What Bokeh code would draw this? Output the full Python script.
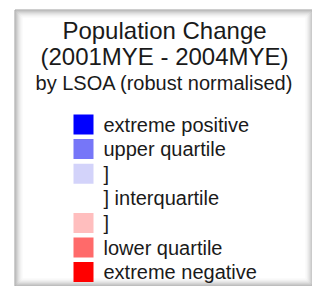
from bokeh.plotting import figure
from bokeh.models import Range1d, ColumnDataSource
from bokeh.core.properties import value
from bokeh.embed import file_html
from bokeh.resources import INLINE

# ---- data ----
title_lines = ["Population Change", "(2001MYE - 2004MYE)", "by LSOA (robust normalised)"]
categories = ["extreme positive", "upper quartile", "]", "] interquartile", "]", "lower quartile", "extreme negative"]
colors = ["#0000ff", "#7676f8", "#d3d3fa", None, "#ffbebe", "#ff6a6a", "#ff0000"]

# ---- layout (pixel-like coordinates) ----
W, H = 312, 286
p = figure(width=W, height=H, output_backend="svg", toolbar_location=None,
           x_range=Range1d(0, W), y_range=Range1d(H, 0),
           min_border=0, outline_line_color=None)
p.axis.visible = False
p.grid.visible = False
p.background_fill_color = "white"
p.border_fill_color = "white"

# bevelled frame
fl, ft, fr, fb = 14, 9, 313, 286
shades = ["#9c9c9c", "#adadad", "#bdbdbd", "#cccccc", "#dadada", "#e6e6e6", "#f0f0f0", "#f7f7f7"]
for k, c in enumerate(shades):
    p.quad(left=fl + k + 0.5, right=fr - k - 0.5, top=ft + k + 0.5, bottom=fb - k - 0.5,
           fill_color=None, line_color=c, line_width=1)

# title
title_sizes = ["24px", "24px", "20px"]
title_mid = [30, 56, 82]
for t, s, ym in zip(title_lines, title_sizes, title_mid):
    p.text(x=[164], y=[ym], text=[t], text_align="center", text_baseline="middle",
           text_font=value("Liberation Sans"), text_font_size=s, text_color="#1a1a1a")

# legend rows
row_top0, row_step, sw = 114, 24.6, 20
sx = 73
tops = [row_top0 + i * row_step for i in range(len(categories))]
sw_idx = [i for i, c in enumerate(colors) if c is not None]
src = ColumnDataSource(dict(
    left=[sx] * len(sw_idx), right=[sx + sw] * len(sw_idx),
    top=[tops[i] for i in sw_idx], bottom=[tops[i] + sw for i in sw_idx],
    color=[colors[i] for i in sw_idx]))
p.quad(left="left", right="right", top="top", bottom="bottom", fill_color="color",
       line_color=None, source=src)

p.text(x=[103] * len(categories), y=[t + 10 for t in tops], text=categories,
       text_align="left", text_baseline="middle",
       text_font=value("Liberation Sans"), text_font_size="20px", text_color="#1a1a1a")

open("out.html", "w").write(file_html(p, INLINE))
